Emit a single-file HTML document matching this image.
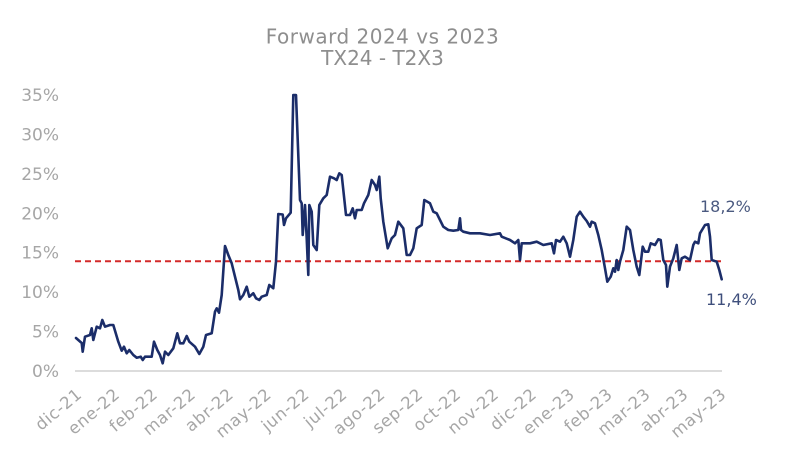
<!DOCTYPE html>
<html>
<head>
<meta charset="utf-8">
<style>
  html, body { margin: 0; padding: 0; background: #ffffff; }
  svg { display: block; }
  text { font-family: "DejaVu Sans", "Liberation Sans", sans-serif; }
</style>
</head>
<body>
<svg width="800" height="473" viewBox="0 0 800 473" xmlns="http://www.w3.org/2000/svg">
  <rect x="0" y="0" width="800" height="473" fill="#ffffff"/>

  <!-- Title -->
  <text x="382.5" y="43.5" font-size="20" fill="#8e8e8e" text-anchor="middle" letter-spacing="0.5">Forward 2024 vs 2023</text>
  <text x="382.5" y="65" font-size="20" fill="#8e8e8e" text-anchor="middle">TX24 - T2X3</text>

  <!-- Y axis labels -->
  <g font-size="17" fill="#a6a6a6" text-anchor="end">
    <text x="59" y="101">35%</text>
    <text x="59" y="140.5">30%</text>
    <text x="59" y="180">25%</text>
    <text x="59" y="219.3">20%</text>
    <text x="59" y="258.7">15%</text>
    <text x="59" y="298.2">10%</text>
    <text x="59" y="337.6">5%</text>
    <text x="59" y="377">0%</text>
  </g>

  <!-- X axis line -->
  <line x1="75" y1="371" x2="722" y2="371" stroke="#dcdcdc" stroke-width="2"/>

  <!-- X axis labels -->
  <g font-size="16.5" fill="#a6a6a6" text-anchor="end" letter-spacing="0.6">
    <text transform="translate(83,396) rotate(-40)">dic-21</text>
    <text transform="translate(120.9,396) rotate(-40)">ene-22</text>
    <text transform="translate(158.8,396) rotate(-40)">feb-22</text>
    <text transform="translate(196.7,396) rotate(-40)">mar-22</text>
    <text transform="translate(234.6,396) rotate(-40)">abr-22</text>
    <text transform="translate(272.5,396) rotate(-40)">may-22</text>
    <text transform="translate(310.4,396) rotate(-40)">jun-22</text>
    <text transform="translate(348.3,396) rotate(-40)">jul-22</text>
    <text transform="translate(386.2,396) rotate(-40)">ago-22</text>
    <text transform="translate(424.1,396) rotate(-40)">sep-22</text>
    <text transform="translate(462,396) rotate(-40)">oct-22</text>
    <text transform="translate(499.9,396) rotate(-40)">nov-22</text>
    <text transform="translate(537.8,396) rotate(-40)">dic-22</text>
    <text transform="translate(575.7,396) rotate(-40)">ene-23</text>
    <text transform="translate(613.6,396) rotate(-40)">feb-23</text>
    <text transform="translate(651.5,396) rotate(-40)">mar-23</text>
    <text transform="translate(689.4,396) rotate(-40)">abr-23</text>
    <text transform="translate(727.3,396) rotate(-40)">may-23</text>
  </g>

  <!-- Red dashed average line -->
  <line x1="75" y1="261.3" x2="722" y2="261.3" stroke="#d42a2a" stroke-width="2" stroke-dasharray="6,4"/>

  <!-- Data series -->
  <polyline fill="none" stroke="#1b2d69" stroke-width="2.6" stroke-linejoin="round" stroke-linecap="round"
    points="76,338 81.7,343 82.7,351.7 85,336.7 90,335 91.7,328.3 93.3,340 96.7,326.7 100,328.3 102.3,320 105,326.7 110,325 113.3,325 118.3,341.7 121.7,350.7 124,346.7 126.7,353.3 129.3,350 133.3,355 136.7,357.7 140.7,356.7 142.7,360 145,356.7 151.7,356.7 154,341.7 157.3,350 160,355 162.7,363.3 165,351.7 168.3,355 173.3,348.3 177.3,333.3 180,343.3 183.3,343.3 186.7,336 189.3,341.7 195,346.7 199.3,354 203.3,346.7 206,335 211.7,333.3 215,311.7 216.7,308.3 219,312.7 221.7,295 225,246 228.3,255 231.7,263.3 235,276.7 238.3,290 240,299.3 243.3,295 246.7,286.7 249.3,296.7 253.3,293.3 256,298.3 259.3,300 261.7,296.7 266.7,295 269.3,285 273.3,288.3 276,261.7 278.3,214 282.7,214.5 284,225 286,218.3 290.7,212.7 293.3,95 296,95 300,200 301.7,203.3 302.7,235 305,205 306.7,238.3 308.3,275 309.3,205 311.7,211.7 313.3,245 316.7,250 319.3,205 323.3,198.3 326.7,195 330,176.7 334,178.3 336.7,180 339.3,173.3 341.7,175 346,215 350,215 352.7,208.3 355,218.3 356.7,210 361.7,210 364,203.3 368.3,195 371.7,180 375,185 376.7,190 379.3,176.7 380.7,198.3 383.3,221.7 387.7,248.3 391.7,238.3 395,235 398.3,221.7 403.3,228.3 406.7,255 410,255 413.3,248.3 416.7,228.3 421.7,225 424.3,200 430,203.3 433.3,211.7 436.7,213.3 440,220 443.3,226.7 448.3,230 453.3,230.7 458.3,230 460,218.3 461,230 463.3,231.7 470,233.3 480,233.3 490,235 500,233.3 501.7,236.7 510,240 515,243.3 518.3,240 520,260 521.7,243.3 530,243.3 536.7,241.7 543.3,245 551.7,243.3 554,253.3 556,240 560,241.7 563.3,236.7 566.7,243.3 570,256.7 573.3,240 576.7,216.7 580,211.7 583.3,216.7 586.7,221 590,226.7 591.7,221.7 595,223.3 598.3,235 601.7,250 605,268.3 607.3,281.7 610.7,276.7 613.3,268.3 615,271.7 616.7,260 618.3,270 620,261.7 623.3,250 626.7,226.7 630,230 633.3,250 636.7,266.7 639.3,275 642.7,246.7 645,251.7 648.3,251.7 650.7,243.3 655,245 658.3,239.3 660.7,240 663.3,260 666,265 667.3,286.7 670,266.7 673.3,258.3 676.7,245 679.3,270 681.7,258.3 685,256.7 690,260 693.3,245 695,241.7 698.3,243.3 700,233.3 705,225 708.3,224.3 710,236.7 711.7,260 716.7,261.7 719.3,270 721.7,279.3"/>

  <!-- Annotations -->
  <text x="700" y="212" font-size="16" fill="#4b5a80">18,2%</text>
  <text x="706" y="305" font-size="16" fill="#3f4f7c">11,4%</text>
</svg>
</body>
</html>
